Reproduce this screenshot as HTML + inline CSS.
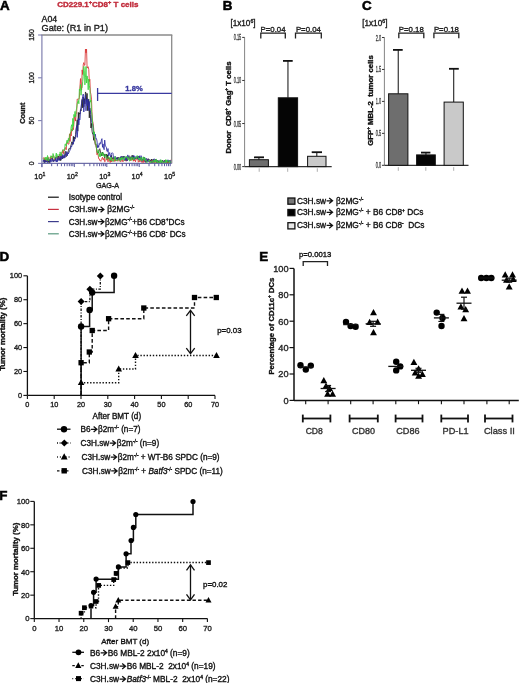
<!DOCTYPE html>
<html><head><meta charset="utf-8"><style>
html,body{margin:0;padding:0;background:#fff;}
svg{display:block;will-change:transform;}
text{font-family:"Liberation Sans",sans-serif;white-space:pre;}
</style></head><body>
<svg width="520" height="683" viewBox="0 0 520 683" xml:space="preserve" font-family="Liberation Sans, sans-serif">
<rect width="520" height="683" fill="#fff"/>
<text x="0" y="9.8" font-size="13.4" font-weight="bold" fill="#000" stroke="#000" stroke-width="0.55">A</text>
<text x="57.20" y="6.90" font-size="8.00" font-weight="bold" fill="#c02838" stroke="#c02838" stroke-width="0.35">CD229.1</text>
<text x="88.77" y="4.30" font-size="5.60" font-weight="bold" fill="#c02838" stroke="#c02838" stroke-width="0.35">+</text>
<text x="92.04" y="6.90" font-size="8.00" font-weight="bold" fill="#c02838" stroke="#c02838" stroke-width="0.35">CD8</text>
<text x="108.05" y="4.30" font-size="5.60" font-weight="bold" fill="#c02838" stroke="#c02838" stroke-width="0.35">+</text>
<text x="111.32" y="6.90" font-size="8.00" font-weight="bold" fill="#c02838" stroke="#c02838" stroke-width="0.35"> T cells</text>
<text x="41.6" y="22.4" font-size="8.8" text-anchor="start" font-weight="normal" fill="#1a1a1a" stroke="#1a1a1a" stroke-width="0.35" >A04</text>
<text x="41.6" y="31.4" font-size="9.2" text-anchor="start" font-weight="normal" fill="#1a1a1a" stroke="#1a1a1a" stroke-width="0.35" >Gate: (R1 in P1)</text>
<line x1="41.3" y1="35.0" x2="172.29999999999998" y2="35.0" stroke="#8a8a8a" stroke-width="1.6" />
<line x1="171.7" y1="35.0" x2="171.7" y2="163.4" stroke="#8a8a8a" stroke-width="1.3" />
<line x1="41.9" y1="35.0" x2="41.9" y2="167.20000000000002" stroke="#8080b0" stroke-width="1.2" />
<line x1="41.9" y1="163.4" x2="171.7" y2="163.4" stroke="#7070a8" stroke-width="1.2" />
<line x1="38.1" y1="163.4" x2="41.9" y2="163.4" stroke="#8080b0" stroke-width="1.1" />
<text transform="translate(34.4,163.4) rotate(-90)" font-size="6.8" text-anchor="middle" fill="#1a1a1a" stroke="#1a1a1a" stroke-width="0.35">0</text>
<line x1="38.1" y1="120.60000000000001" x2="41.9" y2="120.60000000000001" stroke="#8080b0" stroke-width="1.1" />
<text transform="translate(34.4,120.60000000000001) rotate(-90)" font-size="6.8" text-anchor="middle" fill="#1a1a1a" stroke="#1a1a1a" stroke-width="0.35">50</text>
<line x1="38.1" y1="77.80000000000001" x2="41.9" y2="77.80000000000001" stroke="#8080b0" stroke-width="1.1" />
<text transform="translate(34.4,77.80000000000001) rotate(-90)" font-size="6.8" text-anchor="middle" fill="#1a1a1a" stroke="#1a1a1a" stroke-width="0.35">100</text>
<line x1="38.1" y1="35.0" x2="41.9" y2="35.0" stroke="#8080b0" stroke-width="1.1" />
<text transform="translate(34.4,35.0) rotate(-90)" font-size="6.8" text-anchor="middle" fill="#1a1a1a" stroke="#1a1a1a" stroke-width="0.35">150</text>
<text transform="translate(24.8,113.2) rotate(-90)" font-size="7.4" font-weight="bold" text-anchor="middle" fill="#1a1a1a" stroke="#1a1a1a" stroke-width="0.35">Count</text>
<line x1="41.9" y1="163.4" x2="41.9" y2="167.0" stroke="#5a5aa0" stroke-width="1.0" />
<line x1="51.668423359296185" y1="163.4" x2="51.668423359296185" y2="166.20000000000002" stroke="#5a5aa0" stroke-width="1.0" />
<line x1="57.38258471565304" y1="163.4" x2="57.38258471565304" y2="166.20000000000002" stroke="#5a5aa0" stroke-width="1.0" />
<line x1="61.43684671859238" y1="163.4" x2="61.43684671859238" y2="166.20000000000002" stroke="#5a5aa0" stroke-width="1.0" />
<line x1="64.5815766407038" y1="163.4" x2="64.5815766407038" y2="166.20000000000002" stroke="#5a5aa0" stroke-width="1.0" />
<line x1="67.15100807494923" y1="163.4" x2="67.15100807494923" y2="166.20000000000002" stroke="#5a5aa0" stroke-width="1.0" />
<line x1="69.32343139846263" y1="163.4" x2="69.32343139846263" y2="166.20000000000002" stroke="#5a5aa0" stroke-width="1.0" />
<line x1="71.20527007788857" y1="163.4" x2="71.20527007788857" y2="166.20000000000002" stroke="#5a5aa0" stroke-width="1.0" />
<line x1="72.86516943130609" y1="163.4" x2="72.86516943130609" y2="166.20000000000002" stroke="#5a5aa0" stroke-width="1.0" />
<line x1="74.35" y1="163.4" x2="74.35" y2="167.0" stroke="#5a5aa0" stroke-width="1.0" />
<line x1="84.11842335929619" y1="163.4" x2="84.11842335929619" y2="166.20000000000002" stroke="#5a5aa0" stroke-width="1.0" />
<line x1="89.83258471565304" y1="163.4" x2="89.83258471565304" y2="166.20000000000002" stroke="#5a5aa0" stroke-width="1.0" />
<line x1="93.88684671859238" y1="163.4" x2="93.88684671859238" y2="166.20000000000002" stroke="#5a5aa0" stroke-width="1.0" />
<line x1="97.0315766407038" y1="163.4" x2="97.0315766407038" y2="166.20000000000002" stroke="#5a5aa0" stroke-width="1.0" />
<line x1="99.60100807494922" y1="163.4" x2="99.60100807494922" y2="166.20000000000002" stroke="#5a5aa0" stroke-width="1.0" />
<line x1="101.77343139846263" y1="163.4" x2="101.77343139846263" y2="166.20000000000002" stroke="#5a5aa0" stroke-width="1.0" />
<line x1="103.65527007788856" y1="163.4" x2="103.65527007788856" y2="166.20000000000002" stroke="#5a5aa0" stroke-width="1.0" />
<line x1="105.31516943130609" y1="163.4" x2="105.31516943130609" y2="166.20000000000002" stroke="#5a5aa0" stroke-width="1.0" />
<line x1="106.79999999999998" y1="163.4" x2="106.79999999999998" y2="167.0" stroke="#5a5aa0" stroke-width="1.0" />
<line x1="116.56842335929619" y1="163.4" x2="116.56842335929619" y2="166.20000000000002" stroke="#5a5aa0" stroke-width="1.0" />
<line x1="122.28258471565303" y1="163.4" x2="122.28258471565303" y2="166.20000000000002" stroke="#5a5aa0" stroke-width="1.0" />
<line x1="126.33684671859237" y1="163.4" x2="126.33684671859237" y2="166.20000000000002" stroke="#5a5aa0" stroke-width="1.0" />
<line x1="129.4815766407038" y1="163.4" x2="129.4815766407038" y2="166.20000000000002" stroke="#5a5aa0" stroke-width="1.0" />
<line x1="132.05100807494924" y1="163.4" x2="132.05100807494924" y2="166.20000000000002" stroke="#5a5aa0" stroke-width="1.0" />
<line x1="134.22343139846262" y1="163.4" x2="134.22343139846262" y2="166.20000000000002" stroke="#5a5aa0" stroke-width="1.0" />
<line x1="136.10527007788855" y1="163.4" x2="136.10527007788855" y2="166.20000000000002" stroke="#5a5aa0" stroke-width="1.0" />
<line x1="137.76516943130608" y1="163.4" x2="137.76516943130608" y2="166.20000000000002" stroke="#5a5aa0" stroke-width="1.0" />
<line x1="139.25" y1="163.4" x2="139.25" y2="167.0" stroke="#5a5aa0" stroke-width="1.0" />
<line x1="149.01842335929618" y1="163.4" x2="149.01842335929618" y2="166.20000000000002" stroke="#5a5aa0" stroke-width="1.0" />
<line x1="154.73258471565305" y1="163.4" x2="154.73258471565305" y2="166.20000000000002" stroke="#5a5aa0" stroke-width="1.0" />
<line x1="158.78684671859236" y1="163.4" x2="158.78684671859236" y2="166.20000000000002" stroke="#5a5aa0" stroke-width="1.0" />
<line x1="161.93157664070378" y1="163.4" x2="161.93157664070378" y2="166.20000000000002" stroke="#5a5aa0" stroke-width="1.0" />
<line x1="164.50100807494923" y1="163.4" x2="164.50100807494923" y2="166.20000000000002" stroke="#5a5aa0" stroke-width="1.0" />
<line x1="166.6734313984626" y1="163.4" x2="166.6734313984626" y2="166.20000000000002" stroke="#5a5aa0" stroke-width="1.0" />
<line x1="168.55527007788857" y1="163.4" x2="168.55527007788857" y2="166.20000000000002" stroke="#5a5aa0" stroke-width="1.0" />
<line x1="170.2151694313061" y1="163.4" x2="170.2151694313061" y2="166.20000000000002" stroke="#5a5aa0" stroke-width="1.0" />
<text x="42.5" y="178.6" font-size="7.4" text-anchor="end" font-weight="normal" fill="#222" stroke="#222" stroke-width="0.35" >10</text>
<text x="42.5" y="175.6" font-size="5.2" text-anchor="start" font-weight="normal" fill="#222" stroke="#222" stroke-width="0.35" >1</text>
<text x="74.94999999999999" y="178.6" font-size="7.4" text-anchor="end" font-weight="normal" fill="#222" stroke="#222" stroke-width="0.35" >10</text>
<text x="74.94999999999999" y="175.6" font-size="5.2" text-anchor="start" font-weight="normal" fill="#222" stroke="#222" stroke-width="0.35" >2</text>
<text x="107.39999999999998" y="178.6" font-size="7.4" text-anchor="end" font-weight="normal" fill="#222" stroke="#222" stroke-width="0.35" >10</text>
<text x="107.39999999999998" y="175.6" font-size="5.2" text-anchor="start" font-weight="normal" fill="#222" stroke="#222" stroke-width="0.35" >3</text>
<text x="139.85" y="178.6" font-size="7.4" text-anchor="end" font-weight="normal" fill="#222" stroke="#222" stroke-width="0.35" >10</text>
<text x="139.85" y="175.6" font-size="5.2" text-anchor="start" font-weight="normal" fill="#222" stroke="#222" stroke-width="0.35" >4</text>
<text x="172.29999999999998" y="178.6" font-size="7.4" text-anchor="end" font-weight="normal" fill="#222" stroke="#222" stroke-width="0.35" >10</text>
<text x="172.29999999999998" y="175.6" font-size="5.2" text-anchor="start" font-weight="normal" fill="#222" stroke="#222" stroke-width="0.35" >5</text>
<text x="107.5" y="188.0" font-size="7.2" text-anchor="middle" font-weight="normal" fill="#222" stroke="#222" stroke-width="0.35" >GAG-A</text>
<path d="M43.10,161.02 L43.65,160.61 L44.20,162.64 L44.75,159.64 L45.30,162.23 L45.85,160.58 L46.40,160.59 L46.95,162.19 L47.50,158.77 L48.05,159.39 L48.60,162.41 L49.15,159.79 L49.70,162.64 L50.25,160.11 L50.80,158.20 L51.35,157.89 L51.90,158.66 L52.45,157.87 L53.00,161.39 L53.55,161.47 L54.10,159.45 L54.65,160.37 L55.20,159.99 L55.75,159.10 L56.30,157.16 L56.85,156.82 L57.40,156.19 L57.95,160.43 L58.50,156.09 L59.05,157.90 L59.60,159.85 L60.15,157.68 L60.70,160.69 L61.25,154.66 L61.80,156.55 L62.35,159.01 L62.90,155.62 L63.45,157.90 L64.00,158.07 L64.55,155.90 L65.10,151.49 L65.65,151.64 L66.20,156.69 L66.75,155.45 L67.30,153.98 L67.85,153.38 L68.40,150.69 L68.95,148.49 L69.50,148.87 L70.05,149.12 L70.60,146.27 L71.15,144.98 L71.70,141.91 L72.25,142.05 L72.80,144.64 L73.35,136.39 L73.90,141.46 L74.45,137.17 L75.00,138.91 L75.55,134.54 L76.10,128.76 L76.65,126.07 L77.20,119.85 L77.75,131.12 L78.30,112.43 L78.85,119.84 L79.40,112.88 L79.95,113.92 L80.50,109.62 L81.05,110.88 L81.60,103.24 L82.15,99.39 L82.70,107.87 L83.25,97.05 L83.80,106.76 L84.35,98.66 L84.90,103.88 L85.45,91.96 L86.00,93.32 L86.55,101.28 L87.10,93.42 L87.65,110.67 L88.20,106.23 L88.75,99.22 L89.30,117.86 L89.85,108.12 L90.40,114.49 L90.95,127.98 L91.50,123.41 L92.05,131.26 L92.60,133.94 L93.15,134.81 L93.70,140.29 L94.25,136.55 L94.80,141.40 L95.35,144.92 L95.90,143.88 L96.45,147.38 L97.00,151.09 L97.55,153.83 L98.10,151.91 L98.65,152.99 L99.20,149.41 L99.75,148.71 L100.30,151.11 L100.85,153.33 L101.40,155.69 L101.95,153.36 L102.50,152.14 L103.05,155.30 L103.60,153.73 L104.15,153.99 L104.70,157.81 L105.25,154.37 L105.80,155.46 L106.35,154.03 L106.90,158.66 L107.45,154.74 L108.00,159.12 L108.55,157.54 L109.10,157.73 L109.65,159.75 L110.20,160.43 L110.75,160.66 L111.30,155.29 L111.85,158.57 L112.40,159.21 L112.95,157.50 L113.50,158.64 L114.05,159.46 L114.60,158.45 L115.15,158.49 L115.70,160.51 L116.25,157.96 L116.80,158.54 L117.35,157.34 L117.90,159.18 L118.45,157.47 L119.00,157.67 L119.55,159.92 L120.10,157.58 L120.65,159.54 L121.20,156.71 L121.75,158.49 L122.30,156.38 L122.85,158.90 L123.40,157.29 L123.95,156.07 L124.50,156.95 L125.05,157.51 L125.60,158.30 L126.15,160.67 L126.70,159.95 L127.25,160.69 L127.80,158.99 L128.35,156.91 L128.90,156.70 L129.45,155.80 L130.00,156.61 L130.55,159.66 L131.10,157.27 L131.65,159.44 L132.20,155.12 L132.75,159.39 L133.30,155.97 L133.85,159.84 L134.40,157.58 L134.95,157.89 L135.50,158.51 L136.05,158.43 L136.60,158.45 L137.15,157.44 L137.70,159.11 L138.25,156.21 L138.80,157.63 L139.35,157.45 L139.90,159.50 L140.45,157.78 L141.00,157.96 L141.55,157.76 L142.10,160.49 L142.65,159.03 L143.20,160.78 L143.75,156.97 L144.30,158.78 L144.85,158.09 L145.40,160.92 L145.95,162.58 L146.50,160.77 L147.05,161.28 L147.60,159.35 L148.15,158.62 L148.70,160.37 L149.25,159.45 L149.80,160.69 L150.35,160.20 L150.90,161.49 L151.45,159.03 L152.00,162.51 L152.55,160.44 L153.10,159.14 L153.65,162.32 L154.20,162.60 L154.75,160.60 L155.30,159.42 L155.85,159.89 L156.40,161.87 L156.95,162.64 L157.50,160.16 L158.05,162.24 L158.60,160.70 L159.15,162.50 L159.70,161.66 L160.25,161.33 L160.80,161.91 L161.35,162.64 L161.90,161.01 L162.45,160.10 L163.00,162.64 L163.55,162.11 L164.10,160.50 L164.65,161.06 L165.20,160.37 L165.75,160.76 L166.30,160.90 L166.85,162.64 L167.40,162.52 L167.95,161.03 L168.50,162.64 L169.05,161.31 L169.60,160.35 L170.15,162.64 L170.70,162.64" stroke="#202020" stroke-width="0.85" fill="none" stroke-linejoin="round"/>
<path d="M43.10,158.87 L43.65,157.68 L44.20,157.68 L44.75,160.21 L45.30,158.61 L45.85,161.13 L46.40,160.66 L46.95,158.88 L47.50,160.92 L48.05,157.14 L48.60,160.40 L49.15,160.37 L49.70,160.46 L50.25,157.14 L50.80,160.18 L51.35,156.07 L51.90,156.15 L52.45,157.26 L53.00,156.14 L53.55,155.44 L54.10,158.56 L54.65,159.68 L55.20,160.31 L55.75,157.19 L56.30,156.95 L56.85,158.31 L57.40,156.66 L57.95,157.08 L58.50,158.66 L59.05,158.30 L59.60,154.01 L60.15,155.02 L60.70,155.11 L61.25,158.06 L61.80,152.22 L62.35,152.76 L62.90,149.72 L63.45,153.66 L64.00,150.29 L64.55,150.83 L65.10,147.78 L65.65,147.65 L66.20,149.73 L66.75,142.92 L67.30,142.23 L67.85,143.82 L68.40,144.17 L68.95,144.02 L69.50,133.87 L70.05,141.54 L70.60,132.18 L71.15,136.00 L71.70,129.15 L72.25,131.16 L72.80,128.28 L73.35,129.70 L73.90,124.35 L74.45,116.80 L75.00,116.75 L75.55,121.09 L76.10,114.49 L76.65,113.21 L77.20,99.09 L77.75,99.23 L78.30,99.10 L78.85,99.26 L79.40,97.86 L79.95,87.04 L80.50,78.55 L81.05,85.39 L81.60,89.91 L82.15,69.88 L82.70,74.54 L83.25,64.63 L83.80,62.60 L84.35,65.23 L84.90,65.29 L85.45,49.13 L86.00,52.89 L86.55,49.05 L87.10,68.15 L87.65,66.94 L88.20,66.71 L88.75,69.30 L89.30,81.55 L89.85,79.38 L90.40,92.10 L90.95,94.36 L91.50,99.12 L92.05,115.05 L92.60,121.08 L93.15,123.25 L93.70,128.93 L94.25,137.41 L94.80,138.31 L95.35,143.78 L95.90,145.60 L96.45,148.22 L97.00,154.80 L97.55,152.92 L98.10,154.78 L98.65,158.58 L99.20,158.71 L99.75,160.48 L100.30,160.43 L100.85,161.34 L101.40,159.49 L101.95,158.42 L102.50,157.25 L103.05,159.99 L103.60,159.84 L104.15,157.97 L104.70,161.79 L105.25,161.42 L105.80,160.37 L106.35,157.43 L106.90,160.00 L107.45,159.02 L108.00,161.79 L108.55,159.72 L109.10,157.69 L109.65,160.92 L110.20,162.50 L110.75,160.22 L111.30,161.98 L111.85,158.41 L112.40,160.72 L112.95,161.46 L113.50,160.66 L114.05,158.13 L114.60,161.42 L115.15,160.10 L115.70,161.23 L116.25,160.12 L116.80,160.55 L117.35,159.95 L117.90,161.34 L118.45,158.64 L119.00,160.43 L119.55,158.38 L120.10,161.39 L120.65,162.04 L121.20,160.95 L121.75,160.24 L122.30,159.56 L122.85,161.78 L123.40,160.85 L123.95,160.76 L124.50,159.92 L125.05,160.59 L125.60,159.26 L126.15,161.29 L126.70,157.77 L127.25,159.24 L127.80,158.62 L128.35,159.30 L128.90,158.79 L129.45,157.52 L130.00,160.08 L130.55,160.77 L131.10,158.09 L131.65,158.26 L132.20,159.87 L132.75,158.48 L133.30,161.23 L133.85,159.58 L134.40,160.67 L134.95,159.69 L135.50,161.84 L136.05,158.61 L136.60,159.09 L137.15,159.29 L137.70,157.49 L138.25,162.23 L138.80,161.38 L139.35,158.05 L139.90,161.95 L140.45,158.50 L141.00,160.07 L141.55,162.11 L142.10,162.60 L142.65,161.31 L143.20,162.64 L143.75,159.48 L144.30,162.24 L144.85,161.64 L145.40,160.80 L145.95,161.24 L146.50,160.15 L147.05,160.47 L147.60,159.09 L148.15,160.45 L148.70,160.93 L149.25,160.06 L149.80,162.64 L150.35,161.88 L150.90,162.61 L151.45,160.47 L152.00,160.64 L152.55,162.64 L153.10,162.46 L153.65,161.30 L154.20,160.06 L154.75,160.50 L155.30,162.64 L155.85,160.46 L156.40,162.64 L156.95,160.58 L157.50,162.64 L158.05,162.12 L158.60,162.34 L159.15,162.19 L159.70,162.64 L160.25,160.84 L160.80,161.83 L161.35,161.46 L161.90,161.30 L162.45,162.08 L163.00,162.64 L163.55,162.64 L164.10,161.73 L164.65,162.64 L165.20,160.07 L165.75,162.09 L166.30,162.64 L166.85,162.64 L167.40,162.39 L167.95,162.64 L168.50,162.64 L169.05,162.64 L169.60,162.08 L170.15,160.21 L170.70,160.11" stroke="#d83434" stroke-width="0.85" fill="none" stroke-linejoin="round"/>
<path d="M43.10,161.67 L43.65,159.54 L44.20,161.25 L44.75,162.58 L45.30,160.26 L45.85,161.65 L46.40,160.80 L46.95,162.10 L47.50,162.62 L48.05,158.54 L48.60,159.12 L49.15,159.35 L49.70,161.68 L50.25,159.07 L50.80,162.23 L51.35,161.70 L51.90,158.72 L52.45,158.34 L53.00,161.60 L53.55,159.89 L54.10,160.50 L54.65,160.99 L55.20,161.19 L55.75,157.31 L56.30,162.03 L56.85,159.46 L57.40,161.72 L57.95,156.88 L58.50,159.49 L59.05,160.64 L59.60,160.22 L60.15,156.08 L60.70,158.64 L61.25,159.61 L61.80,155.53 L62.35,158.51 L62.90,154.39 L63.45,156.77 L64.00,158.20 L64.55,155.43 L65.10,157.54 L65.65,153.66 L66.20,154.66 L66.75,151.52 L67.30,155.79 L67.85,152.63 L68.40,153.87 L68.95,152.55 L69.50,151.51 L70.05,149.90 L70.60,149.17 L71.15,146.00 L71.70,146.74 L72.25,144.17 L72.80,142.48 L73.35,144.08 L73.90,139.76 L74.45,141.13 L75.00,137.93 L75.55,136.95 L76.10,133.80 L76.65,125.73 L77.20,137.42 L77.75,130.61 L78.30,118.48 L78.85,124.92 L79.40,118.80 L79.95,119.63 L80.50,111.41 L81.05,107.92 L81.60,102.61 L82.15,99.84 L82.70,96.45 L83.25,94.06 L83.80,112.01 L84.35,101.49 L84.90,99.72 L85.45,94.93 L86.00,110.80 L86.55,99.63 L87.10,105.70 L87.65,98.62 L88.20,99.43 L88.75,110.62 L89.30,101.41 L89.85,110.20 L90.40,110.82 L90.95,114.39 L91.50,120.89 L92.05,123.13 L92.60,123.73 L93.15,127.68 L93.70,135.17 L94.25,132.20 L94.80,135.46 L95.35,134.22 L95.90,138.86 L96.45,138.62 L97.00,140.90 L97.55,147.69 L98.10,145.42 L98.65,147.39 L99.20,143.51 L99.75,144.51 L100.30,142.51 L100.85,143.58 L101.40,139.98 L101.95,138.65 L102.50,147.29 L103.05,143.93 L103.60,148.17 L104.15,149.69 L104.70,140.08 L105.25,145.17 L105.80,146.50 L106.35,147.20 L106.90,151.25 L107.45,151.47 L108.00,148.54 L108.55,155.85 L109.10,154.35 L109.65,152.50 L110.20,155.74 L110.75,157.23 L111.30,154.08 L111.85,152.95 L112.40,152.78 L112.95,153.33 L113.50,157.96 L114.05,158.77 L114.60,157.35 L115.15,156.30 L115.70,159.54 L116.25,158.53 L116.80,157.55 L117.35,159.86 L117.90,159.29 L118.45,158.61 L119.00,157.82 L119.55,160.15 L120.10,159.26 L120.65,158.10 L121.20,156.22 L121.75,159.60 L122.30,159.20 L122.85,158.81 L123.40,156.51 L123.95,156.85 L124.50,160.25 L125.05,158.96 L125.60,160.27 L126.15,156.70 L126.70,160.55 L127.25,160.59 L127.80,154.90 L128.35,158.20 L128.90,157.20 L129.45,157.43 L130.00,159.18 L130.55,158.59 L131.10,157.58 L131.65,156.57 L132.20,157.39 L132.75,158.38 L133.30,155.79 L133.85,155.23 L134.40,159.50 L134.95,156.31 L135.50,158.47 L136.05,157.36 L136.60,156.53 L137.15,158.65 L137.70,156.32 L138.25,159.24 L138.80,159.78 L139.35,155.78 L139.90,160.09 L140.45,158.51 L141.00,155.64 L141.55,157.21 L142.10,161.27 L142.65,159.47 L143.20,158.96 L143.75,159.07 L144.30,157.42 L144.85,161.31 L145.40,158.77 L145.95,161.50 L146.50,158.36 L147.05,159.63 L147.60,161.67 L148.15,159.20 L148.70,161.91 L149.25,161.37 L149.80,161.85 L150.35,161.44 L150.90,160.72 L151.45,162.56 L152.00,162.64 L152.55,162.16 L153.10,160.63 L153.65,159.23 L154.20,158.78 L154.75,161.73 L155.30,161.18 L155.85,161.23 L156.40,159.64 L156.95,162.64 L157.50,160.77 L158.05,160.78 L158.60,161.65 L159.15,162.64 L159.70,161.37 L160.25,159.80 L160.80,162.64 L161.35,162.64 L161.90,162.64 L162.45,160.98 L163.00,161.86 L163.55,162.24 L164.10,161.13 L164.65,160.70 L165.20,162.64 L165.75,160.33 L166.30,162.23 L166.85,160.79 L167.40,161.00 L167.95,159.76 L168.50,161.66 L169.05,160.33 L169.60,161.22 L170.15,162.46 L170.70,160.24" stroke="#2a2aa0" stroke-width="0.85" fill="none" stroke-linejoin="round"/>
<path d="M43.10,158.98 L43.65,158.97 L44.20,158.56 L44.75,159.08 L45.30,157.20 L45.85,159.98 L46.40,157.33 L46.95,160.56 L47.50,155.50 L48.05,157.45 L48.60,160.87 L49.15,160.18 L49.70,159.47 L50.25,158.36 L50.80,155.78 L51.35,156.55 L51.90,156.26 L52.45,158.14 L53.00,153.50 L53.55,155.01 L54.10,158.04 L54.65,158.76 L55.20,156.15 L55.75,155.91 L56.30,153.06 L56.85,157.74 L57.40,154.76 L57.95,154.85 L58.50,154.83 L59.05,155.48 L59.60,156.10 L60.15,151.88 L60.70,155.54 L61.25,155.97 L61.80,153.09 L62.35,151.29 L62.90,149.77 L63.45,149.73 L64.00,150.42 L64.55,150.37 L65.10,143.88 L65.65,144.07 L66.20,146.16 L66.75,140.67 L67.30,140.07 L67.85,143.09 L68.40,138.33 L68.95,140.74 L69.50,136.68 L70.05,134.02 L70.60,132.59 L71.15,126.74 L71.70,124.68 L72.25,130.95 L72.80,118.39 L73.35,126.37 L73.90,114.42 L74.45,117.05 L75.00,111.40 L75.55,116.83 L76.10,110.95 L76.65,108.10 L77.20,104.02 L77.75,101.49 L78.30,100.43 L78.85,103.75 L79.40,89.01 L79.95,90.69 L80.50,84.43 L81.05,95.22 L81.60,88.21 L82.15,87.64 L82.70,81.72 L83.25,76.51 L83.80,66.37 L84.35,70.83 L84.90,84.87 L85.45,77.85 L86.00,66.49 L86.55,83.05 L87.10,75.95 L87.65,78.97 L88.20,89.79 L88.75,79.01 L89.30,85.40 L89.85,88.77 L90.40,102.18 L90.95,100.09 L91.50,111.52 L92.05,114.65 L92.60,123.78 L93.15,127.54 L93.70,134.42 L94.25,131.72 L94.80,140.64 L95.35,142.44 L95.90,144.29 L96.45,148.23 L97.00,151.45 L97.55,153.16 L98.10,151.76 L98.65,150.17 L99.20,156.65 L99.75,153.41 L100.30,156.76 L100.85,153.02 L101.40,152.68 L101.95,154.26 L102.50,155.90 L103.05,152.50 L103.60,155.65 L104.15,156.81 L104.70,156.79 L105.25,154.37 L105.80,154.38 L106.35,159.32 L106.90,158.91 L107.45,158.57 L108.00,157.84 L108.55,156.47 L109.10,157.91 L109.65,161.00 L110.20,160.30 L110.75,157.86 L111.30,157.20 L111.85,160.84 L112.40,161.09 L112.95,159.76 L113.50,161.34 L114.05,159.00 L114.60,158.02 L115.15,156.43 L115.70,160.37 L116.25,160.69 L116.80,159.64 L117.35,160.62 L117.90,160.18 L118.45,159.07 L119.00,158.03 L119.55,158.07 L120.10,161.21 L120.65,158.03 L121.20,159.86 L121.75,157.22 L122.30,159.03 L122.85,157.49 L123.40,159.03 L123.95,160.49 L124.50,157.34 L125.05,157.85 L125.60,157.23 L126.15,156.19 L126.70,157.42 L127.25,156.95 L127.80,159.27 L128.35,159.40 L128.90,157.33 L129.45,161.05 L130.00,160.55 L130.55,159.95 L131.10,157.19 L131.65,160.54 L132.20,157.24 L132.75,157.05 L133.30,157.89 L133.85,159.89 L134.40,158.28 L134.95,157.12 L135.50,157.78 L136.05,157.33 L136.60,158.71 L137.15,155.45 L137.70,156.29 L138.25,157.24 L138.80,159.45 L139.35,158.10 L139.90,160.61 L140.45,157.97 L141.00,157.19 L141.55,158.77 L142.10,160.95 L142.65,159.49 L143.20,156.83 L143.75,159.70 L144.30,160.13 L144.85,157.57 L145.40,160.77 L145.95,159.64 L146.50,161.73 L147.05,162.47 L147.60,161.93 L148.15,161.41 L148.70,160.32 L149.25,160.06 L149.80,161.22 L150.35,162.64 L150.90,161.50 L151.45,161.68 L152.00,162.64 L152.55,160.79 L153.10,161.13 L153.65,160.71 L154.20,162.45 L154.75,159.90 L155.30,162.10 L155.85,159.56 L156.40,159.27 L156.95,162.64 L157.50,160.54 L158.05,162.64 L158.60,161.78 L159.15,162.64 L159.70,160.76 L160.25,162.64 L160.80,159.73 L161.35,162.64 L161.90,160.50 L162.45,160.85 L163.00,162.64 L163.55,162.64 L164.10,161.66 L164.65,162.64 L165.20,162.64 L165.75,159.57 L166.30,162.64 L166.85,159.95 L167.40,160.71 L167.95,162.07 L168.50,162.21 L169.05,162.64 L169.60,160.41 L170.15,162.23 L170.70,162.36" stroke="#3ad23a" stroke-width="0.85" fill="none" stroke-linejoin="round"/>
<line x1="97.6" y1="88" x2="97.6" y2="101" stroke="#3a3aa0" stroke-width="1.3" />
<line x1="97.6" y1="93.3" x2="171.7" y2="93.3" stroke="#3a3aa0" stroke-width="1.3" />
<text x="134" y="90.6" font-size="7.6" text-anchor="middle" font-weight="bold" fill="#3a3aa0" stroke="#3a3aa0" stroke-width="0.35" >1.8%</text>
<line x1="48" y1="197.2" x2="58.8" y2="197.2" stroke="#111" stroke-width="1.2" />
<text x="68.80" y="200.20" font-size="8.20" font-weight="normal" fill="#111" stroke="#111" stroke-width="0.35">Isotype control</text>
<line x1="48" y1="209.39999999999998" x2="58.8" y2="209.39999999999998" stroke="#c83040" stroke-width="1.2" />
<text x="68.80" y="212.40" font-size="8.20" font-weight="normal" fill="#111" stroke="#111" stroke-width="0.35">C3H.sw</text>
<path d="M98.00,209.50 H103.50 M100.60,206.80 L103.90,209.50 L100.60,212.20" stroke="#111" stroke-width="1.25" fill="none"/>
<text x="105.09" y="212.40" font-size="8.20" font-weight="normal" fill="#111" stroke="#111" stroke-width="0.35"> β2MG</text>
<text x="129.85" y="209.28" font-size="4.92" font-weight="normal" fill="#111" stroke="#111" stroke-width="0.35">-/-</text>
<line x1="48" y1="221.6" x2="58.8" y2="221.6" stroke="#3c3c8c" stroke-width="1.2" />
<text x="68.80" y="224.60" font-size="8.20" font-weight="normal" fill="#111" stroke="#111" stroke-width="0.35">C3H.sw</text>
<path d="M98.00,221.70 H103.50 M100.60,219.00 L103.90,221.70 L100.60,224.40" stroke="#111" stroke-width="1.25" fill="none"/>
<text x="105.09" y="224.60" font-size="8.20" font-weight="normal" fill="#111" stroke="#111" stroke-width="0.35">β2MG</text>
<text x="127.57" y="221.48" font-size="4.92" font-weight="normal" fill="#111" stroke="#111" stroke-width="0.35">-/-</text>
<text x="132.22" y="224.60" font-size="8.20" font-weight="normal" fill="#111" stroke="#111" stroke-width="0.35">+B6 CD8</text>
<text x="165.72" y="221.48" font-size="4.92" font-weight="normal" fill="#111" stroke="#111" stroke-width="0.35">+</text>
<text x="168.59" y="224.60" font-size="8.20" font-weight="normal" fill="#111" stroke="#111" stroke-width="0.35">DCs</text>
<line x1="48" y1="233.79999999999998" x2="58.8" y2="233.79999999999998" stroke="#5a9a80" stroke-width="1.2" />
<text x="68.80" y="236.80" font-size="8.20" font-weight="normal" fill="#111" stroke="#111" stroke-width="0.35">C3H.sw</text>
<path d="M98.00,233.90 H103.50 M100.60,231.20 L103.90,233.90 L100.60,236.60" stroke="#111" stroke-width="1.25" fill="none"/>
<text x="105.09" y="236.80" font-size="8.20" font-weight="normal" fill="#111" stroke="#111" stroke-width="0.35">β2MG</text>
<text x="127.57" y="233.68" font-size="4.92" font-weight="normal" fill="#111" stroke="#111" stroke-width="0.35">-/-</text>
<text x="132.22" y="236.80" font-size="8.20" font-weight="normal" fill="#111" stroke="#111" stroke-width="0.35">+B6 CD8</text>
<text x="165.72" y="233.68" font-size="4.92" font-weight="normal" fill="#111" stroke="#111" stroke-width="0.35">-</text>
<text x="167.36" y="236.80" font-size="8.20" font-weight="normal" fill="#111" stroke="#111" stroke-width="0.35"> DCs</text>
<text x="222.8" y="10.0" font-size="13.4" font-weight="bold" fill="#000" stroke="#000" stroke-width="0.55">B</text>
<text x="230.40" y="26.40" font-size="8.20" font-weight="normal" fill="#1a1a1a" stroke="#1a1a1a" stroke-width="0.35">[1x10</text>
<text x="250.46" y="23.40" font-size="5.20" font-weight="normal" fill="#1a1a1a" stroke="#1a1a1a" stroke-width="0.35">6</text>
<text x="253.35" y="26.40" font-size="8.20" font-weight="normal" fill="#1a1a1a" stroke="#1a1a1a" stroke-width="0.35">]</text>
<line x1="244.6" y1="37.4" x2="244.6" y2="166.6" stroke="#777" stroke-width="0.9" />
<line x1="244.6" y1="166.6" x2="331.7" y2="166.6" stroke="#333" stroke-width="1.2" />
<line x1="242.2" y1="37.4" x2="244.6" y2="37.4" stroke="#333" stroke-width="1" />
<text transform="translate(237.5,40.4) scale(0.42,1)" font-size="9.3" text-anchor="middle" fill="#333" stroke="#333" stroke-width="0.3">0.15</text>
<line x1="242.2" y1="80.46666666666667" x2="244.6" y2="80.46666666666667" stroke="#333" stroke-width="1" />
<text transform="translate(237.5,83.46666666666667) scale(0.42,1)" font-size="9.3" text-anchor="middle" fill="#333" stroke="#333" stroke-width="0.3">0.10</text>
<line x1="242.2" y1="123.53333333333333" x2="244.6" y2="123.53333333333333" stroke="#333" stroke-width="1" />
<text transform="translate(237.5,126.53333333333333) scale(0.42,1)" font-size="9.3" text-anchor="middle" fill="#333" stroke="#333" stroke-width="0.3">0.05</text>
<line x1="242.2" y1="166.6" x2="244.6" y2="166.6" stroke="#333" stroke-width="1" />
<text transform="translate(237.5,169.6) scale(0.42,1)" font-size="9.3" text-anchor="middle" fill="#333" stroke="#333" stroke-width="0.3">0.00</text>
<g transform="translate(231.2,107.5) rotate(-90)">
<text x="-46.07" y="0.00" font-size="7.80" font-weight="bold" fill="#111" stroke="#111" stroke-width="0.35">Donor  CD8</text>
<text x="-3.17" y="-2.96" font-size="4.68" font-weight="bold" fill="#111" stroke="#111" stroke-width="0.35">+</text>
<text x="-0.44" y="0.00" font-size="7.80" font-weight="bold" fill="#111" stroke="#111" stroke-width="0.35"> Gag</text>
<text x="16.89" y="-2.96" font-size="4.68" font-weight="bold" fill="#111" stroke="#111" stroke-width="0.35">+</text>
<text x="19.63" y="0.00" font-size="7.80" font-weight="bold" fill="#111" stroke="#111" stroke-width="0.35"> T cells</text>
</g>
<line x1="258.9" y1="157.3" x2="258.9" y2="159.7" stroke="#222" stroke-width="1.1" />
<line x1="254" y1="157.3" x2="264" y2="157.3" stroke="#111" stroke-width="1.8" />
<rect x="249.4" y="159.7" width="18.99999999999997" height="6.900000000000006" fill="#6e6e6e" stroke="#111" stroke-width="1"/>
<line x1="287.95000000000005" y1="60.9" x2="287.95000000000005" y2="97.8" stroke="#222" stroke-width="1.1" />
<line x1="283" y1="60.9" x2="292.7" y2="60.9" stroke="#111" stroke-width="1.8" />
<rect x="278.3" y="97.8" width="19.30000000000001" height="68.8" fill="#050505" stroke="#111" stroke-width="1"/>
<line x1="316.8" y1="152.2" x2="316.8" y2="156.3" stroke="#222" stroke-width="1.1" />
<line x1="311.7" y1="152.2" x2="322" y2="152.2" stroke="#111" stroke-width="1.8" />
<rect x="307.6" y="156.3" width="18.399999999999977" height="10.299999999999983" fill="#c9c9c9" stroke="#111" stroke-width="1"/>
<line x1="259.2" y1="168.3" x2="259.2" y2="171.8" stroke="#999" stroke-width="0.8" />
<line x1="287.7" y1="168.3" x2="287.7" y2="171.8" stroke="#999" stroke-width="0.8" />
<line x1="317.3" y1="168.3" x2="317.3" y2="171.8" stroke="#999" stroke-width="0.8" />
<path d="M260.8,38.5 V33.2 H285.3 V38.5" stroke="#222" stroke-width="1.3" fill="none" />
<text x="273.05" y="31.800000000000004" font-size="7.8" text-anchor="middle" font-weight="normal" fill="#222" stroke="#222" stroke-width="0.35" >P=0.04</text>
<path d="M295.5,38.5 V33.2 H321.3 V38.5" stroke="#222" stroke-width="1.3" fill="none" />
<text x="308.4" y="31.800000000000004" font-size="7.8" text-anchor="middle" font-weight="normal" fill="#222" stroke="#222" stroke-width="0.35" >P=0.04</text>
<text x="362.0" y="9.9" font-size="13.4" font-weight="bold" fill="#000" stroke="#000" stroke-width="0.55">C</text>
<text x="362.20" y="26.20" font-size="8.20" font-weight="normal" fill="#1a1a1a" stroke="#1a1a1a" stroke-width="0.35">[1x10</text>
<text x="382.26" y="23.20" font-size="5.20" font-weight="normal" fill="#1a1a1a" stroke="#1a1a1a" stroke-width="0.35">6</text>
<text x="385.15" y="26.20" font-size="8.20" font-weight="normal" fill="#1a1a1a" stroke="#1a1a1a" stroke-width="0.35">]</text>
<line x1="384.4" y1="37.5" x2="384.4" y2="165.3" stroke="#777" stroke-width="0.9" />
<line x1="384.4" y1="165.3" x2="468.5" y2="165.3" stroke="#333" stroke-width="1.2" />
<line x1="382.0" y1="37.5" x2="384.4" y2="37.5" stroke="#333" stroke-width="1" />
<text transform="translate(378.5,40.5) scale(0.42,1)" font-size="9.3" text-anchor="middle" fill="#333" stroke="#333" stroke-width="0.3">2.0</text>
<line x1="382.0" y1="69.45" x2="384.4" y2="69.45" stroke="#333" stroke-width="1" />
<text transform="translate(378.5,72.45) scale(0.42,1)" font-size="9.3" text-anchor="middle" fill="#333" stroke="#333" stroke-width="0.3">1.5</text>
<line x1="382.0" y1="101.4" x2="384.4" y2="101.4" stroke="#333" stroke-width="1" />
<text transform="translate(378.5,104.4) scale(0.42,1)" font-size="9.3" text-anchor="middle" fill="#333" stroke="#333" stroke-width="0.3">1.0</text>
<line x1="382.0" y1="133.35000000000002" x2="384.4" y2="133.35000000000002" stroke="#333" stroke-width="1" />
<text transform="translate(378.5,136.35000000000002) scale(0.42,1)" font-size="9.3" text-anchor="middle" fill="#333" stroke="#333" stroke-width="0.3">0.5</text>
<line x1="382.0" y1="165.3" x2="384.4" y2="165.3" stroke="#333" stroke-width="1" />
<text transform="translate(378.5,168.3) scale(0.42,1)" font-size="9.3" text-anchor="middle" fill="#333" stroke="#333" stroke-width="0.3">0.0</text>
<g transform="translate(373.2,100.5) rotate(-90)">
<text x="-45.35" y="0.00" font-size="7.80" font-weight="bold" fill="#111" stroke="#111" stroke-width="0.35">GFP</text>
<text x="-29.32" y="-2.96" font-size="4.68" font-weight="bold" fill="#111" stroke="#111" stroke-width="0.35">+</text>
<text x="-26.59" y="0.00" font-size="7.80" font-weight="bold" fill="#111" stroke="#111" stroke-width="0.35"> MBL-2  tumor cells</text>
</g>
<line x1="398.25" y1="49.9" x2="398.25" y2="93.8" stroke="#222" stroke-width="1.1" />
<line x1="393" y1="49.9" x2="402.7" y2="49.9" stroke="#111" stroke-width="1.8" />
<rect x="388.6" y="93.8" width="19.299999999999955" height="71.50000000000001" fill="#6e6e6e" stroke="#111" stroke-width="1"/>
<line x1="425.95000000000005" y1="152.6" x2="425.95000000000005" y2="154.9" stroke="#222" stroke-width="1.1" />
<line x1="421" y1="152.6" x2="430.4" y2="152.6" stroke="#111" stroke-width="1.8" />
<rect x="416.6" y="154.9" width="18.69999999999999" height="10.400000000000006" fill="#050505" stroke="#111" stroke-width="1"/>
<line x1="453.70000000000005" y1="68.8" x2="453.70000000000005" y2="102.1" stroke="#222" stroke-width="1.1" />
<line x1="449" y1="68.8" x2="458.8" y2="68.8" stroke="#111" stroke-width="1.8" />
<rect x="444.1" y="102.1" width="19.19999999999999" height="63.20000000000002" fill="#c9c9c9" stroke="#111" stroke-width="1"/>
<line x1="398.3" y1="167.2" x2="398.3" y2="170.8" stroke="#999" stroke-width="0.8" />
<line x1="425.8" y1="167.2" x2="425.8" y2="170.8" stroke="#999" stroke-width="0.8" />
<line x1="453.7" y1="167.2" x2="453.7" y2="170.8" stroke="#999" stroke-width="0.8" />
<path d="M398.8,38.3 V33.2 H423.8 V38.3" stroke="#222" stroke-width="1.3" fill="none" />
<text x="411.3" y="31.800000000000004" font-size="7.8" text-anchor="middle" font-weight="normal" fill="#222" stroke="#222" stroke-width="0.35" >P=0.18</text>
<path d="M433.9,38.3 V33.2 H458.8 V38.3" stroke="#222" stroke-width="1.3" fill="none" />
<text x="446.35" y="31.800000000000004" font-size="7.8" text-anchor="middle" font-weight="normal" fill="#222" stroke="#222" stroke-width="0.35" >P=0.18</text>
<rect x="287.9" y="198.0" width="7" height="6.2" fill="#777" stroke="#111" stroke-width="1.3"/>
<text x="297.00" y="203.70" font-size="8.30" font-weight="normal" fill="#111" stroke="#111" stroke-width="0.35">C3H.sw</text>
<path d="M326.56,200.76 H332.13 M329.19,198.03 L332.53,200.76 L329.19,203.50" stroke="#111" stroke-width="1.27" fill="none"/>
<text x="333.73" y="203.70" font-size="8.30" font-weight="normal" fill="#111" stroke="#111" stroke-width="0.35"> β2MG</text>
<text x="358.80" y="200.55" font-size="4.98" font-weight="normal" fill="#111" stroke="#111" stroke-width="0.35">-/-</text>
<rect x="287.9" y="209.5" width="7" height="6.2" fill="#000" stroke="#111" stroke-width="1.3"/>
<text x="297.00" y="215.20" font-size="8.30" font-weight="normal" fill="#111" stroke="#111" stroke-width="0.35">C3H.sw</text>
<path d="M326.56,212.26 H332.13 M329.19,209.53 L332.53,212.26 L329.19,215.00" stroke="#111" stroke-width="1.27" fill="none"/>
<text x="333.73" y="215.20" font-size="8.30" font-weight="normal" fill="#111" stroke="#111" stroke-width="0.35"> β2MG</text>
<text x="358.80" y="212.05" font-size="4.98" font-weight="normal" fill="#111" stroke="#111" stroke-width="0.35">-/-</text>
<text x="363.50" y="215.20" font-size="8.30" font-weight="normal" fill="#111" stroke="#111" stroke-width="0.35"> + B6 CD8</text>
<text x="402.02" y="212.05" font-size="4.98" font-weight="normal" fill="#111" stroke="#111" stroke-width="0.35">+</text>
<text x="404.93" y="215.20" font-size="8.30" font-weight="normal" fill="#111" stroke="#111" stroke-width="0.35"> DCs</text>
<rect x="287.9" y="222.7" width="7" height="6.2" fill="#e8e8e8" stroke="#111" stroke-width="1.3"/>
<text x="297.00" y="228.40" font-size="8.30" font-weight="normal" fill="#111" stroke="#111" stroke-width="0.35">C3H.sw</text>
<path d="M326.56,225.46 H332.13 M329.19,222.73 L332.53,225.46 L329.19,228.20" stroke="#111" stroke-width="1.27" fill="none"/>
<text x="333.73" y="228.40" font-size="8.30" font-weight="normal" fill="#111" stroke="#111" stroke-width="0.35"> β2MG</text>
<text x="358.80" y="225.25" font-size="4.98" font-weight="normal" fill="#111" stroke="#111" stroke-width="0.35">-/-</text>
<text x="363.50" y="228.40" font-size="8.30" font-weight="normal" fill="#111" stroke="#111" stroke-width="0.35"> + B6 CD8</text>
<text x="402.02" y="225.25" font-size="4.98" font-weight="normal" fill="#111" stroke="#111" stroke-width="0.35">-</text>
<text x="403.68" y="228.40" font-size="8.30" font-weight="normal" fill="#111" stroke="#111" stroke-width="0.35">  DCs</text>
<text x="-0.4" y="261.1" font-size="13.4" font-weight="bold" fill="#000" stroke="#000" stroke-width="0.55">D</text>
<line x1="27.4" y1="275.79999999999995" x2="27.4" y2="395.4" stroke="#111" stroke-width="1.3" />
<line x1="27.4" y1="395.4" x2="215.00000000000003" y2="395.4" stroke="#111" stroke-width="1.3" />
<line x1="23.4" y1="395.4" x2="27.4" y2="395.4" stroke="#111" stroke-width="1.1" />
<text x="22.2" y="398.0" font-size="7.4" text-anchor="end" font-weight="normal" fill="#222" stroke="#222" stroke-width="0.35" >0</text>
<line x1="23.4" y1="371.47999999999996" x2="27.4" y2="371.47999999999996" stroke="#111" stroke-width="1.1" />
<text x="22.2" y="374.08" font-size="7.4" text-anchor="end" font-weight="normal" fill="#222" stroke="#222" stroke-width="0.35" >20</text>
<line x1="23.4" y1="347.56" x2="27.4" y2="347.56" stroke="#111" stroke-width="1.1" />
<text x="22.2" y="350.16" font-size="7.4" text-anchor="end" font-weight="normal" fill="#222" stroke="#222" stroke-width="0.35" >40</text>
<line x1="23.4" y1="323.64" x2="27.4" y2="323.64" stroke="#111" stroke-width="1.1" />
<text x="22.2" y="326.24" font-size="7.4" text-anchor="end" font-weight="normal" fill="#222" stroke="#222" stroke-width="0.35" >60</text>
<line x1="23.4" y1="299.71999999999997" x2="27.4" y2="299.71999999999997" stroke="#111" stroke-width="1.1" />
<text x="22.2" y="302.32" font-size="7.4" text-anchor="end" font-weight="normal" fill="#222" stroke="#222" stroke-width="0.35" >80</text>
<line x1="23.4" y1="275.79999999999995" x2="27.4" y2="275.79999999999995" stroke="#111" stroke-width="1.1" />
<text x="22.2" y="278.4" font-size="7.4" text-anchor="end" font-weight="normal" fill="#222" stroke="#222" stroke-width="0.35" >100</text>
<line x1="27.4" y1="395.4" x2="27.4" y2="398.9" stroke="#111" stroke-width="1.1" />
<text x="27.4" y="406.9" font-size="7.3" text-anchor="middle" font-weight="normal" fill="#222" stroke="#222" stroke-width="0.35" >0</text>
<line x1="54.2" y1="395.4" x2="54.2" y2="398.9" stroke="#111" stroke-width="1.1" />
<text x="54.2" y="406.9" font-size="7.3" text-anchor="middle" font-weight="normal" fill="#222" stroke="#222" stroke-width="0.35" >10</text>
<line x1="81.0" y1="395.4" x2="81.0" y2="398.9" stroke="#111" stroke-width="1.1" />
<text x="81.0" y="406.9" font-size="7.3" text-anchor="middle" font-weight="normal" fill="#222" stroke="#222" stroke-width="0.35" >20</text>
<line x1="107.80000000000001" y1="395.4" x2="107.80000000000001" y2="398.9" stroke="#111" stroke-width="1.1" />
<text x="107.80000000000001" y="406.9" font-size="7.3" text-anchor="middle" font-weight="normal" fill="#222" stroke="#222" stroke-width="0.35" >30</text>
<line x1="134.6" y1="395.4" x2="134.6" y2="398.9" stroke="#111" stroke-width="1.1" />
<text x="134.6" y="406.9" font-size="7.3" text-anchor="middle" font-weight="normal" fill="#222" stroke="#222" stroke-width="0.35" >40</text>
<line x1="161.4" y1="395.4" x2="161.4" y2="398.9" stroke="#111" stroke-width="1.1" />
<text x="161.4" y="406.9" font-size="7.3" text-anchor="middle" font-weight="normal" fill="#222" stroke="#222" stroke-width="0.35" >50</text>
<line x1="188.20000000000002" y1="395.4" x2="188.20000000000002" y2="398.9" stroke="#111" stroke-width="1.1" />
<text x="188.20000000000002" y="406.9" font-size="7.3" text-anchor="middle" font-weight="normal" fill="#222" stroke="#222" stroke-width="0.35" >60</text>
<line x1="215.00000000000003" y1="395.4" x2="215.00000000000003" y2="398.9" stroke="#111" stroke-width="1.1" />
<text x="215.00000000000003" y="406.9" font-size="7.3" text-anchor="middle" font-weight="normal" fill="#222" stroke="#222" stroke-width="0.35" >70</text>
<g transform="translate(5.3,334.3) rotate(-90)">
<text x="-36.54" y="0.00" font-size="7.80" font-weight="bold" fill="#111" stroke="#111" stroke-width="0.35">Tumor mortality (%)</text>
</g>
<text x="116.8" y="418.9" font-size="8.15" text-anchor="middle" font-weight="normal" fill="#111" stroke="#111" stroke-width="0.35" >After BMT (d)</text>
<path d="M81.1,395.4 V382.7 H118.7 V369 H135.5 V355.5 H216" stroke="#111" stroke-width="1.4" fill="none" stroke-dasharray="1.4,1.7"/>
<path d="M81.1,395.4 V362.7 H89.3 V352 H92.2 V330.5 H108.6 V318.7 H143.8 V308 H194.5 V297.5 H216.3" stroke="#111" stroke-width="1.4" fill="none" stroke-dasharray="3.6,2.2"/>
<path d="M81.1,395.4 V301.6 H89.9 V289.2 H100.3 V276" stroke="#111" stroke-width="1.3" fill="none" stroke-dasharray="2.5,1.5,1,1.5"/>
<path d="M81.1,395.4 V326.4 H89.6 V310 H92.2 V292.6 H114.1 V275.8" stroke="#111" stroke-width="1.5" fill="none" />
<path d="M81.1,379.13599999999997 L84.39999999999999,385.07599999999996 L77.8,385.07599999999996Z" fill="#000"/>
<path d="M118.7,365.436 L122.0,371.376 L115.4,371.376Z" fill="#000"/>
<path d="M135.5,351.936 L138.8,357.876 L132.2,357.876Z" fill="#000"/>
<path d="M216.5,351.936 L219.8,357.876 L213.2,357.876Z" fill="#000"/>
<rect x="78.44999999999999" y="360.05" width="5.3" height="5.3" fill="#000"/>
<rect x="86.64999999999999" y="349.35" width="5.3" height="5.3" fill="#000"/>
<rect x="89.55" y="327.85" width="5.3" height="5.3" fill="#000"/>
<rect x="105.94999999999999" y="316.05" width="5.3" height="5.3" fill="#000"/>
<rect x="141.15" y="305.35" width="5.3" height="5.3" fill="#000"/>
<rect x="191.85" y="294.85" width="5.3" height="5.3" fill="#000"/>
<rect x="213.65" y="294.85" width="5.3" height="5.3" fill="#000"/>
<path d="M81.1,298.1 L84.6,301.6 L81.1,305.1 L77.6,301.6Z" fill="#000"/>
<path d="M89.9,285.7 L93.4,289.2 L89.9,292.7 L86.4,289.2Z" fill="#000"/>
<path d="M100.3,272.5 L103.8,276 L100.3,279.5 L96.8,276Z" fill="#000"/>
<circle cx="81.1" cy="326.4" r="3.2" fill="#000"/>
<circle cx="89.6" cy="310" r="3.2" fill="#000"/>
<circle cx="92.2" cy="292.6" r="3.2" fill="#000"/>
<circle cx="114.1" cy="275.8" r="3.2" fill="#000"/>
<line x1="190.5" y1="310.8" x2="190.5" y2="353.1" stroke="#111" stroke-width="1.3" />
<path d="M186.3,315.8 L190.5,310.3 L194.7,315.8" stroke="#111" stroke-width="1.3" fill="none" />
<path d="M186.3,348.1 L190.5,353.6 L194.7,348.1" stroke="#111" stroke-width="1.3" fill="none" />
<text x="217.2" y="333.0" font-size="7.9" text-anchor="start" font-weight="normal" fill="#111" stroke="#111" stroke-width="0.35" >p=0.03</text>
<line x1="57" y1="429.2" x2="70.5" y2="429.2" stroke="#111" stroke-width="1.3" />
<circle cx="64" cy="429.2" r="3.2" fill="#000"/>
<text x="80.50" y="432.20" font-size="8.20" font-weight="normal" fill="#111" stroke="#111" stroke-width="0.35">B6</text>
<path d="M91.03,429.30 H96.53 M93.63,426.60 L96.93,429.30 L93.63,432.00" stroke="#111" stroke-width="1.25" fill="none"/>
<text x="98.11" y="432.20" font-size="8.20" font-weight="normal" fill="#111" stroke="#111" stroke-width="0.35">β2m</text>
<text x="114.22" y="429.08" font-size="4.92" font-weight="normal" fill="#111" stroke="#111" stroke-width="0.35">-/-</text>
<text x="118.86" y="432.20" font-size="8.20" font-weight="normal" fill="#111" stroke="#111" stroke-width="0.35"> (n=7)</text>
<line x1="57" y1="443" x2="70.5" y2="443" stroke="#111" stroke-width="1.3" stroke-dasharray="1,1.6"/>
<path d="M64.3,439.4 L67.89999999999999,443 L64.3,446.6 L60.699999999999996,443Z" fill="#000"/>
<text x="80.50" y="446.00" font-size="8.20" font-weight="normal" fill="#111" stroke="#111" stroke-width="0.35">C3H.sw</text>
<path d="M109.70,443.10 H115.20 M112.30,440.40 L115.60,443.10 L112.30,445.80" stroke="#111" stroke-width="1.25" fill="none"/>
<text x="116.79" y="446.00" font-size="8.20" font-weight="normal" fill="#111" stroke="#111" stroke-width="0.35">β2m</text>
<text x="132.90" y="442.88" font-size="4.92" font-weight="normal" fill="#111" stroke="#111" stroke-width="0.35">-/-</text>
<text x="137.54" y="446.00" font-size="8.20" font-weight="normal" fill="#111" stroke="#111" stroke-width="0.35"> (n=9)</text>
<line x1="57" y1="457" x2="70.5" y2="457" stroke="#111" stroke-width="1.3" stroke-dasharray="0.9,2"/>
<path d="M64.2,453.328 L67.60000000000001,459.448 L60.800000000000004,459.448Z" fill="#000"/>
<text x="81.50" y="460.00" font-size="8.20" font-weight="normal" fill="#111" stroke="#111" stroke-width="0.35">C3H.sw</text>
<path d="M110.70,457.10 H116.20 M113.30,454.40 L116.60,457.10 L113.30,459.80" stroke="#111" stroke-width="1.25" fill="none"/>
<text x="117.79" y="460.00" font-size="8.20" font-weight="normal" fill="#111" stroke="#111" stroke-width="0.35">β2m</text>
<text x="133.90" y="456.88" font-size="4.92" font-weight="normal" fill="#111" stroke="#111" stroke-width="0.35">-/-</text>
<text x="138.54" y="460.00" font-size="8.20" font-weight="normal" fill="#111" stroke="#111" stroke-width="0.35"> + WT-B6 SPDC (n=9)</text>
<line x1="57" y1="470.8" x2="70.5" y2="470.8" stroke="#111" stroke-width="1.3" stroke-dasharray="2.5,2"/>
<rect x="61.5" y="468.1" width="5.4" height="5.4" fill="#000"/>
<text x="82.00" y="473.80" font-size="8.20" font-weight="normal" fill="#111" stroke="#111" stroke-width="0.35">C3H.sw</text>
<path d="M111.20,470.90 H116.70 M113.80,468.20 L117.10,470.90 L113.80,473.60" stroke="#111" stroke-width="1.25" fill="none"/>
<text x="118.29" y="473.80" font-size="8.20" font-weight="normal" fill="#111" stroke="#111" stroke-width="0.35">β2m</text>
<text x="134.40" y="470.68" font-size="4.92" font-weight="normal" fill="#111" stroke="#111" stroke-width="0.35">-/-</text>
<text x="139.04" y="473.80" font-size="8.20" font-weight="normal" fill="#111" stroke="#111" stroke-width="0.35"> + </text>
<text x="148.38" y="473.80" font-size="8.20" font-weight="normal" fill="#111" stroke="#111" stroke-width="0.35" font-style="italic">Batf3</text>
<text x="167.53" y="470.68" font-size="4.92" font-weight="normal" fill="#111" stroke="#111" stroke-width="0.35">-/-</text>
<text x="172.17" y="473.80" font-size="8.20" font-weight="normal" fill="#111" stroke="#111" stroke-width="0.35"> SPDC (n=11)</text>
<text x="259.3" y="261.3" font-size="13.4" font-weight="bold" fill="#000" stroke="#000" stroke-width="0.55">E</text>
<line x1="294.0" y1="268.4" x2="294.0" y2="400.4" stroke="#111" stroke-width="1.5" />
<line x1="294.0" y1="400.4" x2="518.8" y2="400.4" stroke="#111" stroke-width="1.5" />
<line x1="289.5" y1="400.4" x2="294.0" y2="400.4" stroke="#111" stroke-width="1.2" />
<text x="288.5" y="403.7" font-size="9.2" text-anchor="end" font-weight="normal" fill="#222" stroke="#222" stroke-width="0.35" >0</text>
<line x1="289.5" y1="374.0" x2="294.0" y2="374.0" stroke="#111" stroke-width="1.2" />
<text x="288.5" y="377.3" font-size="9.2" text-anchor="end" font-weight="normal" fill="#222" stroke="#222" stroke-width="0.35" >20</text>
<line x1="289.5" y1="347.59999999999997" x2="294.0" y2="347.59999999999997" stroke="#111" stroke-width="1.2" />
<text x="288.5" y="350.9" font-size="9.2" text-anchor="end" font-weight="normal" fill="#222" stroke="#222" stroke-width="0.35" >40</text>
<line x1="289.5" y1="321.2" x2="294.0" y2="321.2" stroke="#111" stroke-width="1.2" />
<text x="288.5" y="324.5" font-size="9.2" text-anchor="end" font-weight="normal" fill="#222" stroke="#222" stroke-width="0.35" >60</text>
<line x1="289.5" y1="294.79999999999995" x2="294.0" y2="294.79999999999995" stroke="#111" stroke-width="1.2" />
<text x="288.5" y="298.09999999999997" font-size="9.2" text-anchor="end" font-weight="normal" fill="#222" stroke="#222" stroke-width="0.35" >80</text>
<line x1="289.5" y1="268.4" x2="294.0" y2="268.4" stroke="#111" stroke-width="1.2" />
<text x="288.5" y="271.7" font-size="9.2" text-anchor="end" font-weight="normal" fill="#222" stroke="#222" stroke-width="0.35" >100</text>
<line x1="305.7" y1="400.4" x2="305.7" y2="404.2" stroke="#111" stroke-width="1.1" />
<line x1="328.1" y1="400.4" x2="328.1" y2="404.2" stroke="#111" stroke-width="1.1" />
<line x1="350.7" y1="400.4" x2="350.7" y2="404.2" stroke="#111" stroke-width="1.1" />
<line x1="373.1" y1="400.4" x2="373.1" y2="404.2" stroke="#111" stroke-width="1.1" />
<line x1="395.8" y1="400.4" x2="395.8" y2="404.2" stroke="#111" stroke-width="1.1" />
<line x1="418.5" y1="400.4" x2="418.5" y2="404.2" stroke="#111" stroke-width="1.1" />
<line x1="441.4" y1="400.4" x2="441.4" y2="404.2" stroke="#111" stroke-width="1.1" />
<line x1="464" y1="400.4" x2="464" y2="404.2" stroke="#111" stroke-width="1.1" />
<line x1="486.9" y1="400.4" x2="486.9" y2="404.2" stroke="#111" stroke-width="1.1" />
<line x1="509.2" y1="400.4" x2="509.2" y2="404.2" stroke="#111" stroke-width="1.1" />
<g transform="translate(273.5,326.1) rotate(-90)">
<text x="-48.42" y="0.00" font-size="7.70" font-weight="bold" fill="#111" stroke="#111" stroke-width="0.35">Percentage of CD11c</text>
<text x="28.18" y="-2.93" font-size="4.62" font-weight="bold" fill="#111" stroke="#111" stroke-width="0.35">+</text>
<text x="30.88" y="0.00" font-size="7.70" font-weight="bold" fill="#111" stroke="#111" stroke-width="0.35"> DCs</text>
</g>
<text x="315.2" y="257" font-size="7.7" text-anchor="middle" font-weight="normal" fill="#111" stroke="#111" stroke-width="0.35" >p=0.0013</text>
<path d="M303.2,266 V261.6 H327.5 V266" stroke="#222" stroke-width="1.3" fill="none" />
<circle cx="300.5" cy="365.2" r="3.2" fill="#000"/>
<circle cx="305.8" cy="369.6" r="3.2" fill="#000"/>
<circle cx="310.8" cy="365.6" r="3.2" fill="#000"/>
<line x1="298.2" y1="367.0" x2="313.2" y2="367.0" stroke="#111" stroke-width="1.3" />
<path d="M323.8,377.074 L327.25,383.284 L320.35,383.284Z" fill="#000"/>
<path d="M326,382.574 L329.45,388.784 L322.55,388.784Z" fill="#000"/>
<path d="M329.5,384.774 L332.95,390.984 L326.05,390.984Z" fill="#000"/>
<path d="M327.6,390.574 L331.05,396.784 L324.15000000000003,396.784Z" fill="#000"/>
<path d="M332.6,390.574 L336.05,396.784 L329.15000000000003,396.784Z" fill="#000"/>
<line x1="320.6" y1="388.5" x2="335.6" y2="388.5" stroke="#111" stroke-width="1.3" />
<line x1="328.1" y1="385.5" x2="328.1" y2="391.5" stroke="#111" stroke-width="1.2" />
<line x1="325.1" y1="385.5" x2="331.1" y2="385.5" stroke="#111" stroke-width="1.2" />
<line x1="325.1" y1="391.5" x2="331.1" y2="391.5" stroke="#111" stroke-width="1.2" />
<circle cx="346" cy="321.9" r="3.2" fill="#000"/>
<circle cx="350.6" cy="326.1" r="3.2" fill="#000"/>
<circle cx="355.6" cy="326.8" r="3.2" fill="#000"/>
<line x1="343.2" y1="324.6" x2="358.2" y2="324.6" stroke="#111" stroke-width="1.3" />
<path d="M373.5,309.074 L376.95,315.284 L370.05,315.284Z" fill="#000"/>
<path d="M369.6,318.674 L373.05,324.88399999999996 L366.15000000000003,324.88399999999996Z" fill="#000"/>
<path d="M377.6,318.474 L381.05,324.68399999999997 L374.15000000000003,324.68399999999997Z" fill="#000"/>
<path d="M373.5,328.974 L376.95,335.18399999999997 L370.05,335.18399999999997Z" fill="#000"/>
<line x1="365.6" y1="323.8" x2="380.6" y2="323.8" stroke="#111" stroke-width="1.3" />
<line x1="373.1" y1="321.3" x2="373.1" y2="326.3" stroke="#111" stroke-width="1.2" />
<line x1="370.1" y1="321.3" x2="376.1" y2="321.3" stroke="#111" stroke-width="1.2" />
<line x1="370.1" y1="326.3" x2="376.1" y2="326.3" stroke="#111" stroke-width="1.2" />
<circle cx="396.2" cy="361.8" r="3.2" fill="#000"/>
<circle cx="400.2" cy="366.4" r="3.2" fill="#000"/>
<circle cx="396.2" cy="370.4" r="3.2" fill="#000"/>
<line x1="388.3" y1="366.4" x2="403.3" y2="366.4" stroke="#111" stroke-width="1.3" />
<path d="M413.9,358.774 L417.34999999999997,364.984 L410.45,364.984Z" fill="#000"/>
<path d="M418.6,365.274 L422.05,371.484 L415.15000000000003,371.484Z" fill="#000"/>
<path d="M415.2,369.274 L418.65,375.484 L411.75,375.484Z" fill="#000"/>
<path d="M422.4,370.674 L425.84999999999997,376.88399999999996 L418.95,376.88399999999996Z" fill="#000"/>
<path d="M418.6,372.574 L422.05,378.784 L415.15000000000003,378.784Z" fill="#000"/>
<line x1="411.0" y1="370.3" x2="426.0" y2="370.3" stroke="#111" stroke-width="1.3" />
<line x1="418.5" y1="368.3" x2="418.5" y2="372.3" stroke="#111" stroke-width="1.2" />
<line x1="415.5" y1="368.3" x2="421.5" y2="368.3" stroke="#111" stroke-width="1.2" />
<line x1="415.5" y1="372.3" x2="421.5" y2="372.3" stroke="#111" stroke-width="1.2" />
<circle cx="436.7" cy="312.6" r="3.2" fill="#000"/>
<circle cx="442.5" cy="317.9" r="3.2" fill="#000"/>
<circle cx="441.5" cy="326" r="3.2" fill="#000"/>
<line x1="433.9" y1="317.9" x2="448.9" y2="317.9" stroke="#111" stroke-width="1.3" />
<line x1="441.4" y1="314.4" x2="441.4" y2="321.4" stroke="#111" stroke-width="1.2" />
<line x1="438.4" y1="314.4" x2="444.4" y2="314.4" stroke="#111" stroke-width="1.2" />
<line x1="438.4" y1="321.4" x2="444.4" y2="321.4" stroke="#111" stroke-width="1.2" />
<path d="M462,287.474 L465.45,293.68399999999997 L458.55,293.68399999999997Z" fill="#000"/>
<path d="M467.5,287.474 L470.95,293.68399999999997 L464.05,293.68399999999997Z" fill="#000"/>
<path d="M460.9,303.274 L464.34999999999997,309.484 L457.45,309.484Z" fill="#000"/>
<path d="M465.7,306.074 L469.15,312.284 L462.25,312.284Z" fill="#000"/>
<path d="M464,314.974 L467.45,321.18399999999997 L460.55,321.18399999999997Z" fill="#000"/>
<line x1="456.5" y1="303.2" x2="471.5" y2="303.2" stroke="#111" stroke-width="1.3" />
<line x1="464" y1="297.2" x2="464" y2="309.2" stroke="#111" stroke-width="1.2" />
<line x1="461" y1="297.2" x2="467" y2="297.2" stroke="#111" stroke-width="1.2" />
<line x1="461" y1="309.2" x2="467" y2="309.2" stroke="#111" stroke-width="1.2" />
<circle cx="481.2" cy="278" r="3.2" fill="#000"/>
<circle cx="486.4" cy="278" r="3.2" fill="#000"/>
<circle cx="491.3" cy="278" r="3.2" fill="#000"/>
<line x1="479.4" y1="278" x2="494.4" y2="278" stroke="#111" stroke-width="1.3" />
<path d="M505.2,271.274 L508.65,277.484 L501.75,277.484Z" fill="#000"/>
<path d="M512.5,271.274 L515.95,277.484 L509.05,277.484Z" fill="#000"/>
<path d="M506.5,276.574 L509.95,282.784 L503.05,282.784Z" fill="#000"/>
<path d="M513.3,275.774 L516.75,281.984 L509.84999999999997,281.984Z" fill="#000"/>
<path d="M509.2,283.274 L512.65,289.484 L505.75,289.484Z" fill="#000"/>
<line x1="501.7" y1="280.2" x2="516.7" y2="280.2" stroke="#111" stroke-width="1.3" />
<line x1="509.2" y1="278.2" x2="509.2" y2="282.2" stroke="#111" stroke-width="1.2" />
<line x1="506.2" y1="278.2" x2="512.2" y2="278.2" stroke="#111" stroke-width="1.2" />
<line x1="506.2" y1="282.2" x2="512.2" y2="282.2" stroke="#111" stroke-width="1.2" />
<line x1="302.8" y1="418.5" x2="330.4" y2="418.5" stroke="#111" stroke-width="1.8" />
<line x1="302.8" y1="414.6" x2="302.8" y2="422.4" stroke="#111" stroke-width="1.8" />
<line x1="330.4" y1="414.6" x2="330.4" y2="422.4" stroke="#111" stroke-width="1.8" />
<text x="314.25" y="433.9" font-size="8.6" text-anchor="middle" font-weight="normal" fill="#333" stroke="#333" stroke-width="0.35" >CD8</text>
<line x1="349.6" y1="418.5" x2="377.8" y2="418.5" stroke="#111" stroke-width="1.8" />
<line x1="349.6" y1="414.6" x2="349.6" y2="422.4" stroke="#111" stroke-width="1.8" />
<line x1="377.8" y1="414.6" x2="377.8" y2="422.4" stroke="#111" stroke-width="1.8" />
<text x="363.5" y="433.9" font-size="9.0" text-anchor="middle" font-weight="normal" fill="#333" stroke="#333" stroke-width="0.35" >CD80</text>
<line x1="395.6" y1="418.5" x2="422.5" y2="418.5" stroke="#111" stroke-width="1.8" />
<line x1="395.6" y1="414.6" x2="395.6" y2="422.4" stroke="#111" stroke-width="1.8" />
<line x1="422.5" y1="414.6" x2="422.5" y2="422.4" stroke="#111" stroke-width="1.8" />
<text x="407.9" y="433.9" font-size="9.1" text-anchor="middle" font-weight="normal" fill="#333" stroke="#333" stroke-width="0.35" >CD86</text>
<line x1="441.3" y1="418.5" x2="468" y2="418.5" stroke="#111" stroke-width="1.8" />
<line x1="441.3" y1="414.6" x2="441.3" y2="422.4" stroke="#111" stroke-width="1.8" />
<line x1="468" y1="414.6" x2="468" y2="422.4" stroke="#111" stroke-width="1.8" />
<text x="455.6" y="433.9" font-size="9.2" text-anchor="middle" font-weight="normal" fill="#333" stroke="#333" stroke-width="0.35" >PD-L1</text>
<line x1="485" y1="418.5" x2="512.5" y2="418.5" stroke="#111" stroke-width="1.8" />
<line x1="485" y1="414.6" x2="485" y2="422.4" stroke="#111" stroke-width="1.8" />
<line x1="512.5" y1="414.6" x2="512.5" y2="422.4" stroke="#111" stroke-width="1.8" />
<text x="499.4" y="433.9" font-size="9.3" text-anchor="middle" font-weight="normal" fill="#333" stroke="#333" stroke-width="0.35" >Class II</text>
<text x="-0.8" y="500.2" font-size="13.4" font-weight="bold" fill="#000" stroke="#000" stroke-width="0.55">F</text>
<line x1="34.3" y1="501.40000000000003" x2="34.3" y2="618.6" stroke="#111" stroke-width="1.3" />
<line x1="34.3" y1="618.6" x2="207.40999999999997" y2="618.6" stroke="#111" stroke-width="1.3" />
<line x1="30.299999999999997" y1="618.6" x2="34.3" y2="618.6" stroke="#111" stroke-width="1.1" />
<text x="29.499999999999996" y="621.4" font-size="7.7" text-anchor="end" font-weight="normal" fill="#222" stroke="#222" stroke-width="0.35" >0</text>
<line x1="30.299999999999997" y1="595.1600000000001" x2="34.3" y2="595.1600000000001" stroke="#111" stroke-width="1.1" />
<text x="29.499999999999996" y="597.96" font-size="7.7" text-anchor="end" font-weight="normal" fill="#222" stroke="#222" stroke-width="0.35" >20</text>
<line x1="30.299999999999997" y1="571.72" x2="34.3" y2="571.72" stroke="#111" stroke-width="1.1" />
<text x="29.499999999999996" y="574.52" font-size="7.7" text-anchor="end" font-weight="normal" fill="#222" stroke="#222" stroke-width="0.35" >40</text>
<line x1="30.299999999999997" y1="548.28" x2="34.3" y2="548.28" stroke="#111" stroke-width="1.1" />
<text x="29.499999999999996" y="551.0799999999999" font-size="7.7" text-anchor="end" font-weight="normal" fill="#222" stroke="#222" stroke-width="0.35" >60</text>
<line x1="30.299999999999997" y1="524.84" x2="34.3" y2="524.84" stroke="#111" stroke-width="1.1" />
<text x="29.499999999999996" y="527.64" font-size="7.7" text-anchor="end" font-weight="normal" fill="#222" stroke="#222" stroke-width="0.35" >80</text>
<line x1="30.299999999999997" y1="501.40000000000003" x2="34.3" y2="501.40000000000003" stroke="#111" stroke-width="1.1" />
<text x="29.499999999999996" y="504.20000000000005" font-size="7.7" text-anchor="end" font-weight="normal" fill="#222" stroke="#222" stroke-width="0.35" >100</text>
<line x1="34.3" y1="618.6" x2="34.3" y2="622.1" stroke="#111" stroke-width="1.1" />
<text x="34.3" y="630.9" font-size="7.7" text-anchor="middle" font-weight="normal" fill="#222" stroke="#222" stroke-width="0.35" >0</text>
<line x1="59.029999999999994" y1="618.6" x2="59.029999999999994" y2="622.1" stroke="#111" stroke-width="1.1" />
<text x="59.029999999999994" y="630.9" font-size="7.7" text-anchor="middle" font-weight="normal" fill="#222" stroke="#222" stroke-width="0.35" >10</text>
<line x1="83.75999999999999" y1="618.6" x2="83.75999999999999" y2="622.1" stroke="#111" stroke-width="1.1" />
<text x="83.75999999999999" y="630.9" font-size="7.7" text-anchor="middle" font-weight="normal" fill="#222" stroke="#222" stroke-width="0.35" >20</text>
<line x1="108.49" y1="618.6" x2="108.49" y2="622.1" stroke="#111" stroke-width="1.1" />
<text x="108.49" y="630.9" font-size="7.7" text-anchor="middle" font-weight="normal" fill="#222" stroke="#222" stroke-width="0.35" >30</text>
<line x1="133.21999999999997" y1="618.6" x2="133.21999999999997" y2="622.1" stroke="#111" stroke-width="1.1" />
<text x="133.21999999999997" y="630.9" font-size="7.7" text-anchor="middle" font-weight="normal" fill="#222" stroke="#222" stroke-width="0.35" >40</text>
<line x1="157.95" y1="618.6" x2="157.95" y2="622.1" stroke="#111" stroke-width="1.1" />
<text x="157.95" y="630.9" font-size="7.7" text-anchor="middle" font-weight="normal" fill="#222" stroke="#222" stroke-width="0.35" >50</text>
<line x1="182.68" y1="618.6" x2="182.68" y2="622.1" stroke="#111" stroke-width="1.1" />
<text x="182.68" y="630.9" font-size="7.7" text-anchor="middle" font-weight="normal" fill="#222" stroke="#222" stroke-width="0.35" >60</text>
<line x1="207.40999999999997" y1="618.6" x2="207.40999999999997" y2="622.1" stroke="#111" stroke-width="1.1" />
<text x="207.40999999999997" y="630.9" font-size="7.7" text-anchor="middle" font-weight="normal" fill="#222" stroke="#222" stroke-width="0.35" >70</text>
<g transform="translate(18.2,559.3) rotate(-90)">
<text x="-36.54" y="0.00" font-size="7.80" font-weight="bold" fill="#111" stroke="#111" stroke-width="0.35">Tumor mortality (%)</text>
</g>
<text x="125.2" y="643.6" font-size="8.0" text-anchor="middle" font-weight="normal" fill="#111" stroke="#111" stroke-width="0.35" >After BMT (d)</text>
<path d="M115.6,618.6 V606.6 H118.3 V600.3 H208.5" stroke="#111" stroke-width="1.4" fill="none" stroke-dasharray="3.4,2.2"/>
<path d="M81.1,618.6 V613.2 H84.4 V607.7 H96.1 V601.5 H98.5 V585.4 H113.7 V579.6 H116.1 V573.4 H118.2 V568 H128 V562.5 H208.5" stroke="#111" stroke-width="1.4" fill="none" stroke-dasharray="1.4,1.7"/>
<path d="M91,618.6 V605.5 H93.6 V592.3 H96.1 V579.2 H118.4 V566.9 H126.1 V553.8 H131 V540.5 H133.4 V527.4 H135.8 V514.5 H193 V501.5" stroke="#111" stroke-width="1.5" fill="none" />
<path d="M115.6,603.36 L118.6,608.76 L112.6,608.76Z" fill="#000"/>
<path d="M118.3,597.06 L121.3,602.4599999999999 L115.3,602.4599999999999Z" fill="#000"/>
<path d="M208.5,597.06 L211.5,602.4599999999999 L205.5,602.4599999999999Z" fill="#000"/>
<rect x="78.75" y="610.85" width="4.7" height="4.7" fill="#000"/>
<rect x="82.05000000000001" y="605.35" width="4.7" height="4.7" fill="#000"/>
<rect x="93.75" y="599.15" width="4.7" height="4.7" fill="#000"/>
<rect x="96.35000000000001" y="583.05" width="4.7" height="4.7" fill="#000"/>
<rect x="111.35000000000001" y="577.25" width="4.7" height="4.7" fill="#000"/>
<rect x="113.75" y="571.05" width="4.7" height="4.7" fill="#000"/>
<rect x="125.55000000000001" y="560.25" width="4.7" height="4.7" fill="#000"/>
<rect x="206.15" y="560.25" width="4.7" height="4.7" fill="#000"/>
<circle cx="91" cy="605.5" r="2.6" fill="#000"/>
<circle cx="93.6" cy="592.3" r="2.6" fill="#000"/>
<circle cx="96.1" cy="579.1" r="2.6" fill="#000"/>
<circle cx="118.4" cy="566.9" r="2.6" fill="#000"/>
<circle cx="126.1" cy="553.8" r="2.6" fill="#000"/>
<circle cx="131.1" cy="540.5" r="2.6" fill="#000"/>
<circle cx="133.4" cy="527.4" r="2.6" fill="#000"/>
<circle cx="135.8" cy="514.5" r="2.6" fill="#000"/>
<circle cx="193" cy="501.5" r="2.6" fill="#000"/>
<line x1="190.5" y1="565.3" x2="190.5" y2="599.3" stroke="#111" stroke-width="1.3" />
<path d="M186.5,570.3 L190.5,564.8 L194.5,570.3" stroke="#111" stroke-width="1.3" fill="none" />
<path d="M186.5,594.3 L190.5,599.8 L194.5,594.3" stroke="#111" stroke-width="1.3" fill="none" />
<text x="203" y="587" font-size="7.9" text-anchor="start" font-weight="normal" fill="#111" stroke="#111" stroke-width="0.35" >p=0.02</text>
<line x1="72.3" y1="652.3" x2="84" y2="652.3" stroke="#111" stroke-width="1.3" />
<circle cx="78.5" cy="652.3" r="2.9" fill="#000"/>
<text x="90.00" y="655.70" font-size="8.30" font-weight="normal" fill="#111" stroke="#111" stroke-width="0.35">B6</text>
<path d="M100.66,652.76 H106.23 M103.29,650.03 L106.63,652.76 L103.29,655.50" stroke="#111" stroke-width="1.27" fill="none"/>
<text x="107.83" y="655.70" font-size="8.30" font-weight="normal" fill="#111" stroke="#111" stroke-width="0.35">B6 MBL-2 2x10</text>
<text x="165.03" y="652.55" font-size="4.98" font-weight="normal" fill="#111" stroke="#111" stroke-width="0.35">4</text>
<text x="167.80" y="655.70" font-size="8.30" font-weight="normal" fill="#111" stroke="#111" stroke-width="0.35"> (n=9)</text>
<line x1="72.3" y1="665.7" x2="84" y2="665.7" stroke="#111" stroke-width="1.3" stroke-dasharray="2.5,2"/>
<path d="M78.3,662.3520000000001 L81.39999999999999,667.932 L75.2,667.932Z" fill="#000"/>
<text x="90.00" y="669.10" font-size="8.30" font-weight="normal" fill="#111" stroke="#111" stroke-width="0.35">C3H.sw</text>
<path d="M119.56,666.16 H125.13 M122.19,663.43 L125.53,666.16 L122.19,668.90" stroke="#111" stroke-width="1.27" fill="none"/>
<text x="126.73" y="669.10" font-size="8.30" font-weight="normal" fill="#111" stroke="#111" stroke-width="0.35">B6 MBL-2  2x10</text>
<text x="186.24" y="665.95" font-size="4.98" font-weight="normal" fill="#111" stroke="#111" stroke-width="0.35">4</text>
<text x="189.01" y="669.10" font-size="8.30" font-weight="normal" fill="#111" stroke="#111" stroke-width="0.35"> (n=19)</text>
<line x1="72.3" y1="678.6" x2="84" y2="678.6" stroke="#111" stroke-width="1.3" stroke-dasharray="0.9,2"/>
<rect x="76.0" y="676.1" width="5.0" height="5.0" fill="#000"/>
<text x="90.00" y="682.00" font-size="8.30" font-weight="normal" fill="#111" stroke="#111" stroke-width="0.35">C3H.sw</text>
<path d="M119.56,679.06 H125.13 M122.19,676.33 L125.53,679.06 L122.19,681.80" stroke="#111" stroke-width="1.27" fill="none"/>
<text x="126.73" y="682.00" font-size="8.30" font-weight="normal" fill="#111" stroke="#111" stroke-width="0.35" font-style="italic">Batf3</text>
<text x="146.11" y="678.85" font-size="4.98" font-weight="normal" fill="#111" stroke="#111" stroke-width="0.35">-/-</text>
<text x="150.81" y="682.00" font-size="8.30" font-weight="normal" fill="#111" stroke="#111" stroke-width="0.35"> MBL-2  2x10</text>
<text x="200.17" y="678.85" font-size="4.98" font-weight="normal" fill="#111" stroke="#111" stroke-width="0.35">4</text>
<text x="202.94" y="682.00" font-size="8.30" font-weight="normal" fill="#111" stroke="#111" stroke-width="0.35"> (n=22)</text>
</svg></body></html>
